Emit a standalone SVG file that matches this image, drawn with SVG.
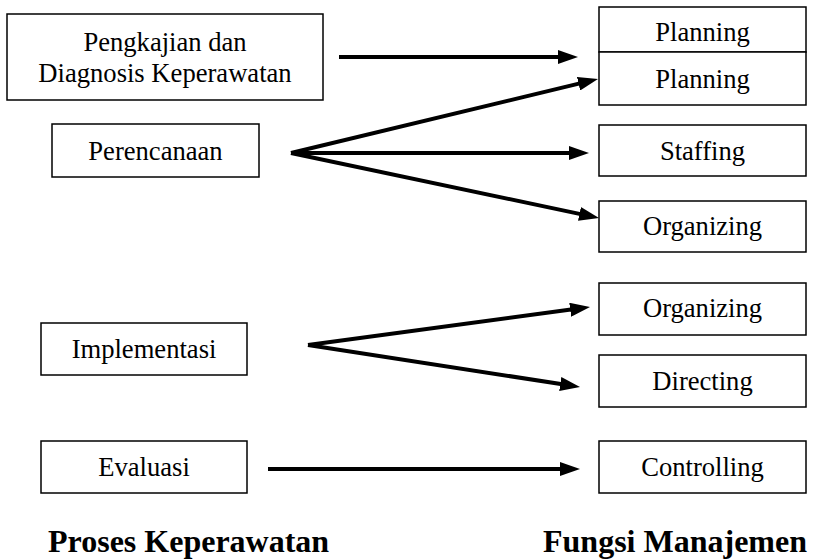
<svg xmlns="http://www.w3.org/2000/svg" width="813" height="560" viewBox="0 0 813 560">
<style>
.box{fill:#fff;stroke:#000;stroke-width:1.5}
.t{font-family:'Liberation Serif',serif;font-size:26.6px;fill:#000;text-anchor:middle}
.h{font-family:'Liberation Serif',serif;font-size:32px;font-weight:bold;fill:#000}
.c{stroke:#000;stroke-width:4;fill:none;marker-end:url(#ah)}
</style>
<defs>
<marker id="ah" viewBox="0 0 20 14" refX="12" refY="7" markerWidth="20" markerHeight="14" markerUnits="userSpaceOnUse" orient="auto">
<path d="M0,0 L20,7 L0,14 Z" fill="#000"/>
</marker>
</defs>
<rect width="813" height="560" fill="#fff"/>
<g id="n-pengkajian"><rect class="box" x="7" y="14" width="316" height="86"/><text class="t" x="165" y="51">Pengkajian dan</text><text class="t" x="165" y="82">Diagnosis Keperawatan</text></g>
<g id="n-perencanaan"><rect class="box" x="52" y="124" width="207" height="53"/><text class="t" x="155.5" y="160">Perencanaan</text></g>
<g id="n-implementasi"><rect class="box" x="41" y="323" width="206" height="52"/><text class="t" x="144" y="358">Implementasi</text></g>
<g id="n-evaluasi"><rect class="box" x="41" y="441" width="206" height="52"/><text class="t" x="144" y="476">Evaluasi</text></g>
<g id="n-planning1"><rect class="box" x="599" y="7" width="207" height="45"/><text class="t" x="702.5" y="41">Planning</text></g>
<g id="n-planning2"><rect class="box" x="599" y="52" width="207" height="53"/><text class="t" x="702.5" y="88">Planning</text></g>
<g id="n-staffing"><rect class="box" x="599" y="125" width="207" height="51"/><text class="t" x="702.5" y="160">Staffing</text></g>
<g id="n-organizing1"><rect class="box" x="599" y="201" width="207" height="51"/><text class="t" x="702.5" y="235">Organizing</text></g>
<g id="n-organizing2"><rect class="box" x="599" y="283" width="207" height="52"/><text class="t" x="702.5" y="317">Organizing</text></g>
<g id="n-directing"><rect class="box" x="599" y="355" width="207" height="52"/><text class="t" x="702.5" y="390">Directing</text></g>
<g id="n-controlling"><rect class="box" x="599" y="441" width="207" height="52"/><text class="t" x="702.5" y="476">Controlling</text></g>
<g id="connectors">
<line class="c" x1="339" y1="57" x2="570" y2="57"/>
<line class="c" x1="291" y1="153" x2="590.2" y2="80.9"/>
<line class="c" x1="291" y1="153" x2="581" y2="153"/>
<line class="c" x1="291" y1="153" x2="591.2" y2="216.4"/>
<line class="c" x1="308" y1="345" x2="582.1" y2="308.1"/>
<line class="c" x1="308" y1="345" x2="572.1" y2="385.8"/>
<line class="c" x1="268" y1="469" x2="572" y2="469"/>
</g>
<g id="titles"><text class="h" x="48" y="552">Proses Keperawatan</text><text class="h" x="543" y="552">Fungsi Manajemen</text></g>
</svg>
